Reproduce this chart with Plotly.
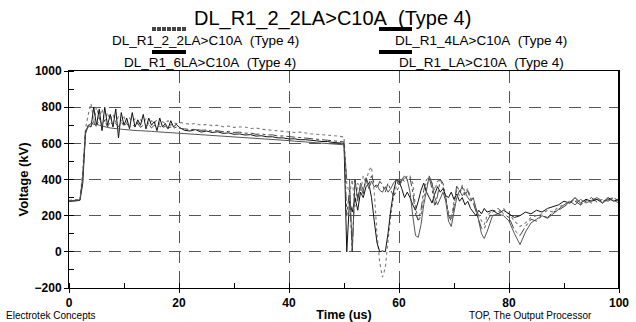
import plotly.graph_objects as go

# Time axis (us)
T = [0, 2, 2.5,
     3, 3.5, 4, 4.5, 5, 5.5, 6, 6.5, 7, 7.5, 8, 8.5, 9, 9.5, 10, 10.5, 11, 11.5, 12, 12.5,
     13, 13.5, 14, 14.5, 15, 15.5, 16, 16.5, 17, 17.5, 18, 18.5, 19, 19.5, 20,
     21, 22, 23, 24, 25, 26, 27, 28, 29, 30, 31, 32, 33, 34, 35, 36, 37, 38, 39, 40,
     41, 42, 43, 44, 45, 46, 47, 48, 49, 50,
     50.5, 51, 51.5, 52, 52.5, 53, 53.5, 54, 54.5, 55, 55.5, 56, 56.5, 57, 57.5, 58, 58.5,
     59, 59.5, 60, 60.5, 61, 61.5, 62, 62.5, 63, 63.5, 64, 64.5, 65, 65.5, 66, 66.5, 67,
     67.5, 68, 68.5, 69, 69.5, 70, 70.5, 71, 71.5, 72, 72.5, 73, 73.5, 74, 74.5, 75, 75.5, 76,
     77, 78, 79, 80, 81, 82, 83, 84, 85, 86, 87, 88, 89, 90, 91, 92, 93, 94, 95, 96, 97, 98, 99, 100]

# Voltage (kV) per case
V_2_2LA = [285, 290, 450,
           680, 760, 820, 720, 800, 740, 790, 720, 770, 730, 760, 715, 750, 725, 745, 715, 740, 720, 735, 710,
           730, 715, 735, 705, 725, 712, 730, 705, 720, 710, 725, 700, 715, 708, 715,
           712, 705, 710, 700, 705, 698, 700, 692, 695, 688, 690, 690, 682, 685, 678, 675, 672, 668, 665, 662,
           660, 662, 655, 652, 650, 648, 645, 642, 640, 635,
           380, 320, 400, 250, 380, 330, 420, 380, 450, 470, 330, 100, -60, -140, -90, 60, 200,
           300, 360, 400, 380, 410, 395, 420, 380, 250, 170, 200, 300, 360, 410, 380, 340, 390,
           400, 360, 300, 220, 180, 280, 340, 310, 370, 330, 350, 300, 280, 240, 200, 170, 150, 200,
           230, 220, 240, 210, 170, 140, 160, 190, 200, 210, 230, 220, 250, 260, 270, 290, 260, 290, 270, 300, 280, 290, 300, 280]

V_6LA = [280, 285, 380,
         660, 700, 690, 800, 700, 790, 670, 800, 700, 760, 690, 790, 630, 770, 700, 740, 680, 770, 690, 730,
         700, 760, 680, 740, 700, 720, 670, 740, 690, 710, 680, 725, 690, 705, 690,
         672, 668, 676, 662, 668, 660, 664, 655, 658, 650, 652, 646, 648, 640, 642, 636, 636, 630, 630, 624,
         625, 620, 620, 615, 614, 610, 610, 605, 604, 600,
         0, 280, 220, 300, 230, 330, 300, 360, 380, 300, 170, 50, 0, 5, 0, 100, 230,
         330, 400, 390, 350, 300, 330, 300, 260, 230, 280, 340, 380, 330, 300, 270, 320, 360,
         330, 350, 310, 300, 330, 290, 320, 280, 300, 260, 280, 240, 220, 200, 230, 210, 240, 220,
         230, 210, 230, 210, 190, 200, 220, 210, 230, 220, 240, 250, 260, 280, 270, 300, 270, 290, 280, 290, 270, 300, 280, 290]

V_4LA = [282, 288, 420,
         650, 700, 710, 705, 705, 700, 695, 690, 688, 685, 682, 680, 680, 678, 676, 675, 674, 672, 672, 670,
         670, 668, 668, 667, 666, 665, 664, 663, 662, 662, 661, 660, 660, 659, 658,
         656, 654, 652, 650, 648, 646, 644, 641, 639, 637, 635, 632, 630, 628, 626, 624, 621, 619, 617, 615,
         612, 610, 607, 605, 602, 600, 598, 596, 594, 592,
         400, 400, 0, 400, 280, 380, 340, 400, 350, 390, 360, 370, 340, 330, 360, 330, 350,
         380, 400, 370, 400, 420, 400, 330, 200, 90, 80, 150, 260, 350, 420, 380, 300, 260,
         300, 330, 280, 170, 140, 220, 300, 340, 310, 330, 300, 280, 300, 240, 160, 100, 74, 110,
         200, 210, 200, 170, 100, 40, 110, 160, 180, 200, 185, 210, 240, 260, 280, 260, 290, 270, 285, 300, 270, 290, 285, 270]

V_LA = [278, 284, 400,
        670, 690, 700, 720, 690, 740, 700, 730, 690, 720, 700, 710, 690, 720, 695, 710, 690, 705, 690, 710,
        688, 700, 690, 705, 685, 700, 688, 695, 684, 695, 685, 690, 683, 690, 682,
        680, 676, 678, 672, 674, 668, 670, 664, 666, 660, 662, 656, 657, 650, 652, 646, 647, 640, 641, 636,
        634, 632, 628, 626, 622, 620, 617, 614, 612, 608,
        200, 340, 0, 400, 300, 360, 320, 410, 370, 420, 380, 350, 390, 370, 330, 380, 340,
        310, 330, 360, 400, 390, 420, 410, 330, 210, 175, 230, 340, 400, 410, 350, 250, 310,
        400, 380, 300, 200, 170, 250, 370, 330, 360, 310, 340, 290, 270, 220, 180, 130, 125, 170,
        220, 240, 210, 190, 120, 90, 140, 180, 170, 200, 190, 220, 230, 250, 270, 280, 260, 280, 300, 275, 290, 280, 300, 280]

NAMES = ["DL_R1_2_2LA>C10A\u00a0\u00a0(Type 4)", "DL_R1_6LA>C10A\u00a0\u00a0(Type 4)",
         "DL_R1_4LA>C10A\u00a0\u00a0(Type 4)", "DL_R1_LA>C10A\u00a0\u00a0(Type 4)"]
TITLE = "DL_R1_2_2LA>C10A\u00a0\u00a0(Type 4)"
X_TICKS = [0, 20, 40, 60, 80, 100]
Y_TICKS = [-200, 0, 200, 400, 600, 800, 1000]

FONT = "Arial, Liberation Sans, sans-serif"

fig = go.Figure()
styles = [
    dict(color="#7a7a7a", width=1.1, dash="dot"),
    dict(color="#111111", width=1.0, dash="solid"),
    dict(color="#555555", width=1.0, dash="solid"),
    dict(color="#444444", width=1.0, dash="dashdot"),
]
for vals, name, st in zip([V_2_2LA, V_6LA, V_4LA, V_LA], NAMES, styles):
    fig.add_trace(go.Scatter(x=T, y=vals, mode="lines", name=name, line=st, showlegend=False))

axis_common = dict(
    showline=True, linecolor="black", linewidth=1, mirror=True,
    ticks="outside", ticklen=4, tickcolor="black",
    showgrid=True, gridcolor="#555555", gridwidth=1, griddash="12px,8px",
    zeroline=False, automargin=False,
    tickfont=dict(family=FONT, size=12, color="black", weight="bold"),
)

fig.update_xaxes(range=[0, 100], tickvals=X_TICKS,
                 minor=dict(dtick=10, tick0=0, ticks="inside", ticklen=5, tickcolor="black", showgrid=False),
                 title=dict(text="<b>Time (us)</b>", font=dict(family=FONT, size=12.5, color="black"), standoff=2),
                 **axis_common)
fig.update_yaxes(range=[-200, 1000], tickvals=Y_TICKS,
                 minor=dict(dtick=100, tick0=0, ticks="inside", ticklen=5, tickcolor="black", showgrid=False),
                 title=dict(text="<b>Voltage (kV)</b>", font=dict(family=FONT, size=13, color="black"), standoff=3),
                 **axis_common)

L, R, TOP, B = 69, 619, 71, 288
W, H = 636, 322


def px(x):
    return (x - L) / (R - L)


def py(y):
    return (B - y) / (B - TOP)


ann = []
ann.append(dict(text=TITLE, x=px(332), y=py(18), xref="paper", yref="paper", showarrow=False,
                xanchor="center", yanchor="middle", font=dict(family=FONT, size=20, color="black")))
legend_pos = [(205, 41), (210, 63), (481, 41), (481, 63)]
for name, (lx, ly) in zip(NAMES, legend_pos):
    ann.append(dict(text=name, x=px(lx), y=py(ly), xref="paper", yref="paper", showarrow=False,
                    xanchor="center", yanchor="middle", font=dict(family=FONT, size=13.5, color="black")))
ann.append(dict(text="Electrotek Concepts", x=px(5), y=py(322), xref="paper", yref="paper", showarrow=False,
                xanchor="left", yanchor="bottom", borderpad=0, font=dict(family=FONT, size=10, color="black")))
ann.append(dict(text="TOP, The Output Processor", x=px(468), y=py(322), xref="paper", yref="paper",
                showarrow=False, xanchor="left", yanchor="bottom", borderpad=0,
                font=dict(family=FONT, size=10, color="black")))

shapes = []
bars = [(152, 186, 29, "#444444", "4px,1px"), (152, 186, 52, "black", "solid"),
        (379, 412, 29, "black", "solid"), (379, 412, 52, "black", "solid")]
for x0, x1, yy, c, d in bars:
    shapes.append(dict(type="line", xref="paper", yref="paper", x0=px(x0), x1=px(x1), y0=py(yy), y1=py(yy),
                       line=dict(color=c, width=4, dash=d)))
# heavier right frame edge
shapes.append(dict(type="line", xref="paper", yref="paper", x0=1, x1=1, y0=0, y1=1,
                   line=dict(color="black", width=2)))

fig.update_layout(
    width=W, height=H, autosize=False,
    margin=dict(l=L, r=W - R, t=TOP, b=H - B, pad=0),
    paper_bgcolor="white", plot_bgcolor="white",
    annotations=ann, shapes=shapes, showlegend=False,
    font=dict(family=FONT, color="black"),
)

fig.write_html("out.html", config={"displayModeBar": False},
               post_script="document.body.style.margin='0';document.body.style.padding='0';")
